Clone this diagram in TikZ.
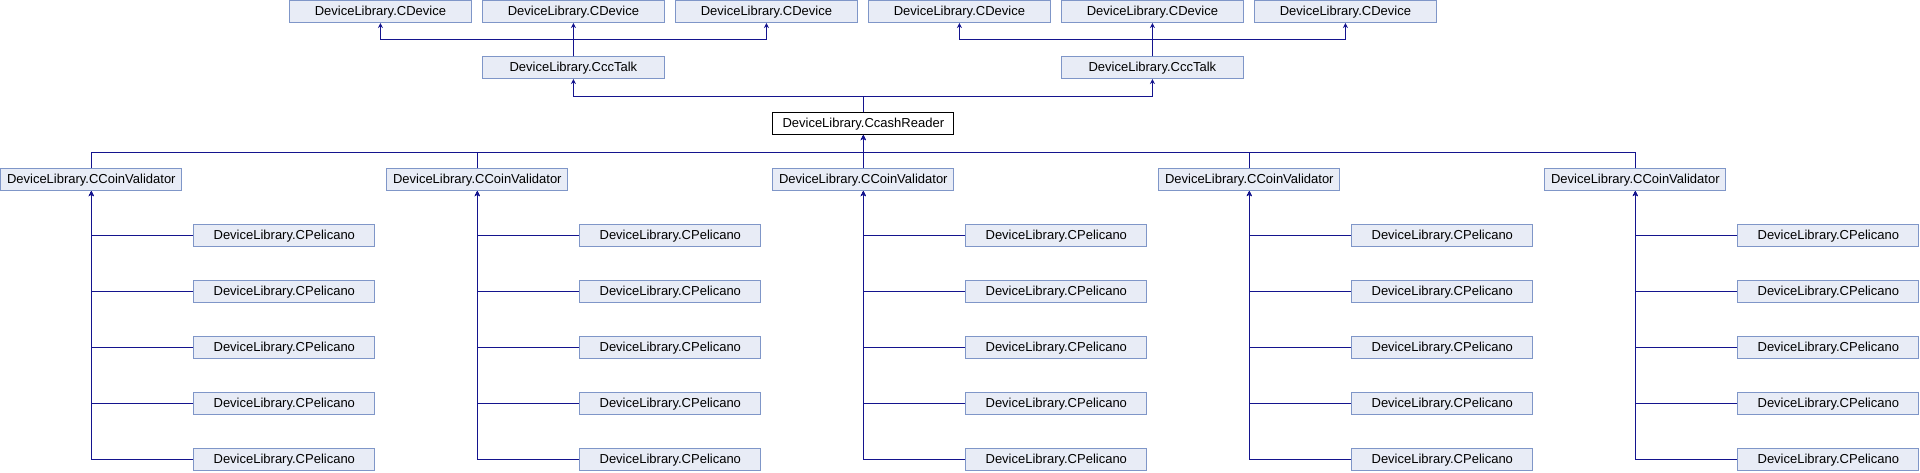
\documentclass[tikz,border=0pt]{standalone}
\usepackage{fontspec}
\setmainfont{Liberation Sans}
\usepackage{tikz}
\usetikzlibrary{positioning, arrows}
\usetikzlibrary{arrows.meta}
\definecolor{boxfill}{HTML}{E8ECF6}
\definecolor{boxline}{HTML}{7F96C8}
\definecolor{edgeblue}{HTML}{14148E}
\tikzset{>={Stealth[length=5pt,width=5pt]}, % small solid arrow heads
node distance=56pt, % vertical spacing between the rows
cls/.style={draw=boxline, fill=boxfill, line width=1pt, minimum width=181.3pt, minimum height=21.7pt, inner sep=0pt, font=\fontsize{13}{15}\selectfont}, % every class box
this/.style={cls, draw=black, fill=white}, % the documented class
inherit/.style={->, draw=edgeblue, line width=1pt}, % base class links
}
\begin{document}
\begin{tikzpicture}
\useasboundingbox (0,0) rectangle (1920pt,-472pt);

\node[cls] (cd1) at (380.4pt,-11.7pt) {DeviceLibrary.CDevice};
\node[cls, right of=cd1, node distance=193pt] (cd2) {DeviceLibrary.CDevice};
\node[cls, right of=cd2, node distance=193pt] (cd3) {DeviceLibrary.CDevice};
\node[cls, right of=cd3, node distance=193pt] (cd4) {DeviceLibrary.CDevice};
\node[cls, right of=cd4, node distance=193pt] (cd5) {DeviceLibrary.CDevice};
\node[cls, right of=cd5, node distance=193pt] (cd6) {DeviceLibrary.CDevice};

\node[cls, below of=cd2] (ct1) {DeviceLibrary.CccTalk};
\node[cls, below of=cd5] (ct2) {DeviceLibrary.CccTalk};

\node[this] (cr) at (863.3pt,-123.7pt) {DeviceLibrary.CcashReader};

\node[cls, below of=cr] (cv3) {DeviceLibrary.CCoinValidator};
\node[cls, left of=cv3, node distance=386pt] (cv2) {DeviceLibrary.CCoinValidator};
\node[cls, left of=cv2, node distance=386pt] (cv1) {DeviceLibrary.CCoinValidator};
\node[cls, right of=cv3, node distance=386pt] (cv4) {DeviceLibrary.CCoinValidator};
\node[cls, right of=cv4, node distance=386pt] (cv5) {DeviceLibrary.CCoinValidator};

\node[cls, below of=cv1, xshift=193pt] (p11) {DeviceLibrary.CPelicano};
\node[cls, below of=p11] (p12) {DeviceLibrary.CPelicano};
\node[cls, below of=p12] (p13) {DeviceLibrary.CPelicano};
\node[cls, below of=p13] (p14) {DeviceLibrary.CPelicano};
\node[cls, below of=p14] (p15) {DeviceLibrary.CPelicano};

\node[cls, below of=cv2, xshift=193pt] (p21) {DeviceLibrary.CPelicano};
\node[cls, below of=p21] (p22) {DeviceLibrary.CPelicano};
\node[cls, below of=p22] (p23) {DeviceLibrary.CPelicano};
\node[cls, below of=p23] (p24) {DeviceLibrary.CPelicano};
\node[cls, below of=p24] (p25) {DeviceLibrary.CPelicano};

\node[cls, below of=cv3, xshift=193pt] (p31) {DeviceLibrary.CPelicano};
\node[cls, below of=p31] (p32) {DeviceLibrary.CPelicano};
\node[cls, below of=p32] (p33) {DeviceLibrary.CPelicano};
\node[cls, below of=p33] (p34) {DeviceLibrary.CPelicano};
\node[cls, below of=p34] (p35) {DeviceLibrary.CPelicano};

\node[cls, below of=cv4, xshift=193pt] (p41) {DeviceLibrary.CPelicano};
\node[cls, below of=p41] (p42) {DeviceLibrary.CPelicano};
\node[cls, below of=p42] (p43) {DeviceLibrary.CPelicano};
\node[cls, below of=p43] (p44) {DeviceLibrary.CPelicano};
\node[cls, below of=p44] (p45) {DeviceLibrary.CPelicano};

\node[cls, below of=cv5, xshift=193pt] (p51) {DeviceLibrary.CPelicano};
\node[cls, below of=p51] (p52) {DeviceLibrary.CPelicano};
\node[cls, below of=p52] (p53) {DeviceLibrary.CPelicano};
\node[cls, below of=p53] (p54) {DeviceLibrary.CPelicano};
\node[cls, below of=p54] (p55) {DeviceLibrary.CPelicano};

% CccTalk -> CDevice
\draw[inherit] (ct1.north) -- ++(0,16.7pt) -| (cd1.south);
\draw[inherit] (ct1.north) -- (cd2.south);
\draw[inherit] (ct1.north) -- ++(0,16.7pt) -| (cd3.south);
\draw[inherit] (ct2.north) -- ++(0,16.7pt) -| (cd4.south);
\draw[inherit] (ct2.north) -- (cd5.south);
\draw[inherit] (ct2.north) -- ++(0,16.7pt) -| (cd6.south);

% CcashReader -> CccTalk
\draw[inherit] (cr.north) -- ++(0,15.6pt) -| (ct1.south);
\draw[inherit] (cr.north) -- ++(0,15.6pt) -| (ct2.south);

% CCoinValidator -> CcashReader
\draw[inherit] (cv1.north) -- ++(0,16pt) -| (cr.south);
\draw[inherit] (cv2.north) -- ++(0,16pt) -| (cr.south);
\draw[inherit] (cv3.north) -- (cr.south);
\draw[inherit] (cv4.north) -- ++(0,16pt) -| (cr.south);
\draw[inherit] (cv5.north) -- ++(0,16pt) -| (cr.south);

% CPelicano -> CCoinValidator
\draw[inherit] (p11.west) -| (cv1.south);
\draw[inherit] (p12.west) -| (cv1.south);
\draw[inherit] (p13.west) -| (cv1.south);
\draw[inherit] (p14.west) -| (cv1.south);
\draw[inherit] (p15.west) -| (cv1.south);

\draw[inherit] (p21.west) -| (cv2.south);
\draw[inherit] (p22.west) -| (cv2.south);
\draw[inherit] (p23.west) -| (cv2.south);
\draw[inherit] (p24.west) -| (cv2.south);
\draw[inherit] (p25.west) -| (cv2.south);

\draw[inherit] (p31.west) -| (cv3.south);
\draw[inherit] (p32.west) -| (cv3.south);
\draw[inherit] (p33.west) -| (cv3.south);
\draw[inherit] (p34.west) -| (cv3.south);
\draw[inherit] (p35.west) -| (cv3.south);

\draw[inherit] (p41.west) -| (cv4.south);
\draw[inherit] (p42.west) -| (cv4.south);
\draw[inherit] (p43.west) -| (cv4.south);
\draw[inherit] (p44.west) -| (cv4.south);
\draw[inherit] (p45.west) -| (cv4.south);

\draw[inherit] (p51.west) -| (cv5.south);
\draw[inherit] (p52.west) -| (cv5.south);
\draw[inherit] (p53.west) -| (cv5.south);
\draw[inherit] (p54.west) -| (cv5.south);
\draw[inherit] (p55.west) -| (cv5.south);

\end{tikzpicture}
\end{document}
